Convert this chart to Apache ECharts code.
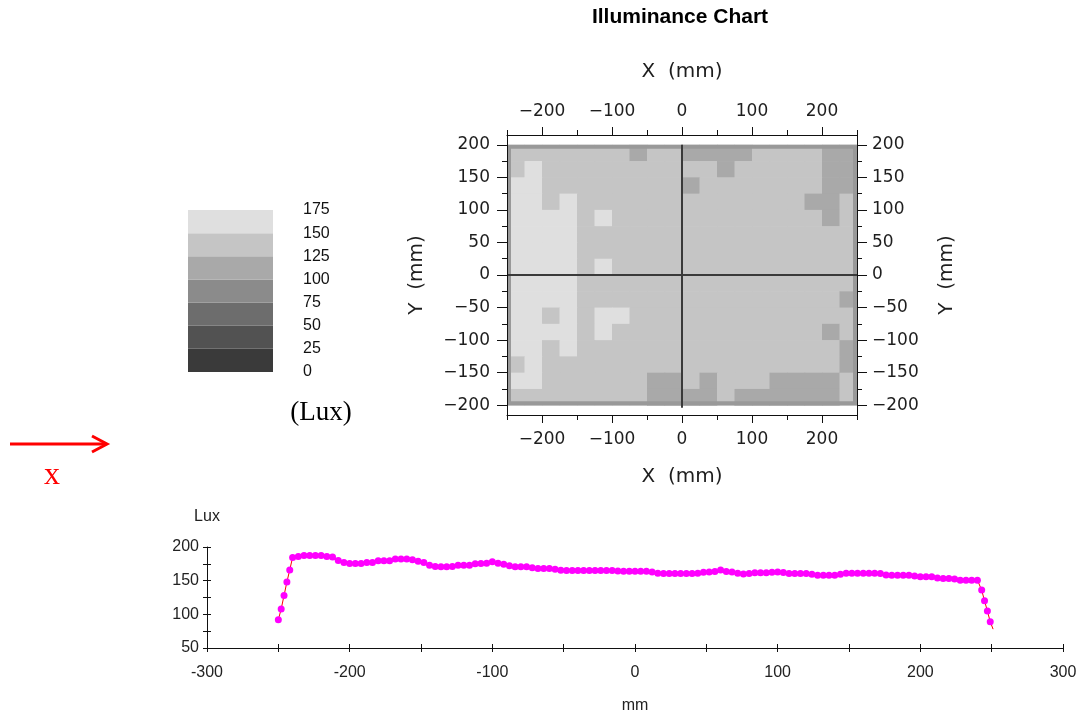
<!DOCTYPE html>
<html>
<head>
<meta charset="utf-8">
<title>Illuminance Chart</title>
<script src="https://cdn.jsdelivr.net/npm/echarts@6/dist/echarts.min.js"></script>
<style>
  html, body { margin: 0; padding: 0; background: #fff; }
  #main { width: 1081px; height: 715px; }
</style>
</head>
<body>
<div id="main"></div>
<script>
// cell edges of the illuminance map (mm)
var colEdges = [-250, -225, -200, -175, -150, -125, -100, -75, -50, -25, 0, 25, 50, 75, 100, 125, 150, 175, 200, 225, 250];
var rowEdges = [200, 175, 150, 125, 100, 75, 50, 25, 0, -25, -50, -75, -100, -125, -150, -175, -200];

// lux per cell, rows from y=200 down to y=-200, columns from x=-250 to 250
var luxRows = [
  [140, 142, 141, 140, 139, 138, 136, 118, 134, 137, 120, 118, 117, 121, 135, 138, 137, 136, 119, 116],
  [141, 152, 142, 141, 140, 139, 140, 139, 138, 138, 131, 133, 122, 131, 140, 141, 139, 138, 121, 118],
  [156, 153, 144, 142, 141, 140, 141, 140, 139, 132, 124, 138, 140, 141, 140, 138, 140, 136, 122, 120],
  [158, 155, 148, 153, 145, 142, 141, 140, 140, 139, 138, 140, 141, 141, 140, 140, 135, 124, 122, 131],
  [160, 159, 157, 156, 146, 151, 142, 141, 140, 140, 140, 141, 141, 141, 140, 140, 139, 136, 124, 132],
  [161, 160, 158, 156, 147, 144, 142, 141, 140, 140, 140, 141, 141, 141, 141, 140, 140, 139, 136, 133],
  [162, 161, 159, 155, 146, 148, 143, 141, 141, 140, 140, 141, 141, 142, 141, 141, 140, 139, 137, 134],
  [162, 161, 159, 156, 148, 152, 145, 142, 141, 140, 140, 141, 142, 142, 141, 141, 140, 139, 137, 133],
  [161, 160, 159, 157, 149, 146, 143, 141, 141, 140, 140, 141, 141, 142, 141, 141, 140, 138, 134, 129],
  [160, 160, 158, 156, 148, 146, 143, 141, 140, 140, 140, 141, 141, 141, 141, 140, 138, 136, 131, 122],
  [159, 157, 147, 155, 145, 153, 151, 142, 140, 140, 140, 141, 141, 141, 141, 141, 137, 136, 133, 130],
  [159, 157, 154, 153, 144, 152, 146, 141, 140, 140, 140, 141, 141, 141, 140, 140, 139, 136, 124, 131],
  [158, 156, 148, 152, 143, 142, 141, 140, 140, 139, 140, 140, 141, 140, 140, 139, 138, 136, 132, 123],
  [149, 155, 146, 149, 142, 141, 140, 139, 138, 137, 138, 139, 139, 140, 139, 137, 136, 134, 131, 122],
  [152, 152, 144, 143, 141, 140, 139, 134, 122, 120, 131, 123, 136, 133, 128, 124, 123, 122, 122, 127],
  [140, 140, 141, 140, 139, 138, 135, 130, 121, 118, 122, 121, 130, 123, 121, 120, 122, 120, 121, 128]
];

// centre cross of the map: [x0, x1, y0, y1]
var crossLines = [[0, 0, 200, -204], [-250, 250, 0, 0]];

// grey key (Lux)
var keyBounds = [0, 25, 50, 75, 100, 125, 150, 175];
var keyColors = ['#3a3a3a', '#525252', '#6d6d6d', '#8b8b8b', '#a9a9a9', '#c5c5c5', '#dfdfdf'];

// map axis ticks
var mapXMajor = [-200, -100, 0, 100, 200];
var mapXMinor = [-250, -150, -50, 50, 150, 250];
var mapYMajor = [-200, -150, -100, -50, 0, 50, 100, 150, 200];
var mapYMinor = [-175, -125, -75, -25, 25, 75, 125, 175];

// lux profile along x (mm)
var profileMm = [-250, -248, -246, -244, -242,
  -240, -236, -232, -228, -224, -220, -216, -212, -208, -204, -200, -196, -192, -188, -184, -180,
  -176, -172, -168, -164, -160, -156, -152, -148, -144, -140, -136, -132, -128, -124, -120, -116,
  -112, -108, -104, -100, -96, -92, -88, -84, -80, -76, -72, -68, -64, -60, -56, -52,
  -48, -44, -40, -36, -32, -28, -24, -20, -16, -12, -8, -4, 0, 4, 8, 12,
  16, 20, 24, 28, 32, 36, 40, 44, 48, 52, 56, 60, 64, 68, 72, 76,
  80, 84, 88, 92, 96, 100, 104, 108, 112, 116, 120, 124, 128, 132, 136, 140,
  144, 148, 152, 156, 160, 164, 168, 172, 176, 180, 184, 188, 192, 196, 200, 204,
  208, 212, 216, 220, 224, 228, 232, 236, 240,
  243, 245, 247, 249, 251];
var profileLux = [92, 108, 128, 148, 166,
  184.5, 186, 187.5, 187.5, 187.5, 187.5, 186, 185, 180, 177, 175.5, 175.5, 175.5, 177, 177, 179.5,
  179.5, 179.5, 182, 182, 182, 181, 179, 177, 173, 171, 170.5, 170.5, 171, 173, 173, 173,
  175, 175.5, 176, 178, 176, 174.5, 172, 170.5, 170.5, 170.5, 169, 168, 168, 168, 167, 165.5,
  165, 165, 165, 165, 165, 165, 165, 165, 165, 164.5, 164, 164, 164, 164, 164, 163,
  161, 160.7, 160.7, 160.7, 160.7, 160.7, 160.7, 161, 162.5, 162.7, 163.5, 166, 163.5, 163, 161, 160,
  160.5, 161.7, 161.7, 161.7, 162.5, 163, 162, 160.7, 160.7, 160.7, 160.7, 159.5, 158.2, 158.2, 158.2, 158.2,
  159.5, 161.2, 161.2, 161.2, 161.2, 161.2, 161.2, 160.5, 158.5, 158.2, 158.2, 158.2, 158.2, 157, 155.7, 155.7,
  155.7, 154, 153.3, 153.3, 152.5, 150.8, 150.8, 150.8, 150.8,
  136, 120, 105, 89, 78];
var profileXLabels = [-300, -200, -100, 0, 100, 200, 300];
var profileYLabels = [50, 100, 150, 200];

var myChart = echarts.init(document.getElementById('main'));

var heatData = [];
for (var r = 0; r < luxRows.length; r++) {
  for (var c = 0; c < luxRows[r].length; c++) {
    heatData.push([colEdges[c], colEdges[c + 1], rowEdges[r], rowEdges[r + 1], luxRows[r][c]]);
  }
}
var mapExtent = [colEdges[0], colEdges[colEdges.length - 1], rowEdges[0], rowEdges[rowEdges.length - 1]];

var profileData = [];
for (var i = 0; i < profileMm.length; i++) {
  if (i === profileMm.length - 1) {
    profileData.push({ value: [profileMm[i], profileLux[i]], symbol: 'none' });
  } else {
    profileData.push([profileMm[i], profileLux[i]]);
  }
}

var keyPieces = [];
var keySeries = [];
for (var k = 0; k < keyColors.length; k++) {
  keyPieces.push({ gte: keyBounds[k], lt: keyBounds[k + 1], color: keyColors[k] });
  keySeries.push({
    type: 'bar', xAxisIndex: 4, yAxisIndex: 4, stack: 'key', barWidth: '100%', silent: true,
    itemStyle: { color: keyColors[k] },
    data: [keyBounds[k + 1] - keyBounds[k]]
  });
}

function signed(v) {
  return v < 0 ? '\u2212' + (-v) : String(v);
}

function cellRect(params, api) {
  var a = api.coord([api.value(0), api.value(2)]);
  var b = api.coord([api.value(1), api.value(3)]);
  return {
    type: 'rect',
    shape: { x: a[0], y: a[1], width: b[0] - a[0] + 0.6, height: b[1] - a[1] + 0.6 },
    style: { fill: api.visual('color') }
  };
}

function edgeRect(params, api) {
  var a = api.coord([api.value(0), api.value(2)]);
  var b = api.coord([api.value(1), api.value(3)]);
  return {
    type: 'rect',
    shape: { x: a[0] + 2, y: a[1] + 2, width: b[0] - a[0] - 4, height: b[1] - a[1] - 4 },
    style: { fill: 'none', stroke: '#999999', lineWidth: 4 }
  };
}

function crossLine(params, api) {
  var a = api.coord([api.value(0), api.value(2)]);
  var b = api.coord([api.value(1), api.value(3)]);
  return {
    type: 'line',
    shape: { x1: a[0], y1: a[1], x2: b[0], y2: b[1] },
    style: { stroke: '#3a3a3a', lineWidth: 2 }
  };
}

var mapFont = 'DejaVu Sans';
var mapText = '#1e1e1e';
var mapName = { fontFamily: mapFont, fontSize: 20, color: mapText };
var blackLine = { onZero: false, lineStyle: { color: '#111', width: 1 } };

function mapMajorAxis(grid, pos, ticks, min, max, tickLen, margin, name, gap) {
  return {
    gridIndex: grid, type: 'value', position: pos, min: min, max: max, z: 3,
    axisLine: blackLine,
    axisTick: { customValues: ticks, length: tickLen, lineStyle: { color: '#111' } },
    axisLabel: { customValues: ticks, formatter: signed, margin: margin, fontFamily: mapFont, fontSize: 17, color: mapText },
    splitLine: { show: false },
    name: name, nameLocation: 'middle', nameGap: gap, nameTextStyle: mapName,
    nameRotate: (pos === 'left' || pos === 'right') ? 90 : 0
  };
}

function mapMinorAxis(grid, pos, ticks, min, max) {
  return {
    gridIndex: grid, type: 'value', position: pos, min: min, max: max, z: 3,
    axisLine: { show: false, onZero: false },
    axisTick: { customValues: ticks, length: 5, lineStyle: { color: '#111' } },
    axisLabel: { show: false },
    splitLine: { show: false }
  };
}

var profText = { fontFamily: 'Liberation Sans', fontSize: 16, color: '#222' };

var option = {
  animation: false,
  backgroundColor: '#fff',
  title: {
    text: 'Illuminance Chart',
    left: 680, top: 7, padding: 0, textAlign: 'center',
    textStyle: { fontFamily: 'Liberation Sans', fontSize: 21, fontWeight: 'bold', color: '#000' }
  },
  grid: [
    { left: 507, top: 135, width: 350, height: 280, outerBoundsMode: 'none' },
    { left: 507, top: 135, width: 350, height: 280, outerBoundsMode: 'none' },
    { left: 188, top: 210, width: 85, height: 162, outerBoundsMode: 'none' },
    { left: 207, top: 547, width: 856, height: 101, outerBoundsMode: 'none' },
    { left: 207, top: 547, width: 856, height: 101, outerBoundsMode: 'none' }
  ],
  xAxis: [
    mapMajorAxis(0, 'bottom', mapXMajor, -250, 250, 8, 16, 'X  (mm)', 52),
    mapMajorAxis(0, 'top', mapXMajor, -250, 250, 8, 15, 'X  (mm)', 53),
    mapMinorAxis(1, 'bottom', mapXMinor, -250, 250),
    mapMinorAxis(1, 'top', mapXMinor, -250, 250),
    { gridIndex: 2, type: 'category', data: ['Lux'], show: false },
    {
      gridIndex: 3, type: 'value', min: -300, max: 300, interval: 50,
      axisLine: blackLine,
      axisTick: { length: 4, lineStyle: { color: '#111' } },
      axisLabel: Object.assign({ customValues: profileXLabels, margin: 17 }, profText),
      splitLine: { show: false },
      name: 'mm', nameLocation: 'middle', nameGap: 50, nameTextStyle: profText
    },
    {
      gridIndex: 4, type: 'value', min: -300, max: 300, interval: 50,
      axisLine: { show: false, onZero: false },
      axisTick: { inside: true, length: 4, lineStyle: { color: '#111' } },
      axisLabel: { show: false }, splitLine: { show: false }
    }
  ],
  yAxis: [
    mapMajorAxis(0, 'left', mapYMajor, -215, 215, 10, 17, 'Y  (mm)', 80),
    mapMajorAxis(0, 'right', mapYMajor, -215, 215, 10, 15, 'Y  (mm)', 80),
    mapMinorAxis(1, 'left', mapYMinor, -215, 215),
    mapMinorAxis(1, 'right', mapYMinor, -215, 215),
    {
      gridIndex: 2, type: 'value', position: 'right', min: keyBounds[0], max: keyBounds[keyBounds.length - 1],
      axisLine: { show: false }, axisTick: { show: false }, splitLine: { show: false },
      axisLabel: { customValues: keyBounds, margin: 30, fontFamily: 'Liberation Sans', fontSize: 16, color: '#111' }
    },
    {
      gridIndex: 3, type: 'value', min: 50, max: 200, interval: 25,
      axisLine: blackLine,
      axisTick: { length: 4, lineStyle: { color: '#111' } },
      axisLabel: Object.assign({ customValues: profileYLabels, margin: 8 }, profText),
      splitLine: { show: false },
      name: 'Lux', nameLocation: 'end', nameGap: 22, nameTextStyle: profText
    },
    {
      gridIndex: 4, type: 'value', min: 50, max: 200, interval: 25,
      axisLine: { show: false, onZero: false },
      axisTick: { inside: true, length: 4, lineStyle: { color: '#111' } },
      axisLabel: { show: false }, splitLine: { show: false }
    }
  ],
  visualMap: {
    type: 'piecewise', show: false, seriesIndex: 0, dimension: 4,
    pieces: keyPieces
  },
  series: [
    {
      type: 'custom', name: 'lux', xAxisIndex: 0, yAxisIndex: 0,
      encode: { x: [0, 1], y: [2, 3] },
      renderItem: cellRect,
      data: heatData,
      silent: true
    },
    {
      type: 'custom', name: 'edge', xAxisIndex: 0, yAxisIndex: 0,
      encode: { x: [0, 1], y: [2, 3] },
      renderItem: edgeRect,
      data: [mapExtent],
      silent: true
    },
    {
      type: 'custom', name: 'cross', xAxisIndex: 0, yAxisIndex: 0,
      encode: { x: [0, 1], y: [2, 3] },
      renderItem: crossLine,
      data: crossLines,
      silent: true
    },
    {
      type: 'line', name: 'profile', xAxisIndex: 5, yAxisIndex: 5,
      data: profileData,
      symbol: 'circle', symbolSize: 7,
      itemStyle: { color: '#ff00ff' },
      lineStyle: { color: '#ff0000', width: 1 },
      z: 3
    }
  ].concat(keySeries),
  graphic: [
    { type: 'line', shape: { x1: 10, y1: 444, x2: 106, y2: 444 }, style: { stroke: '#ff0000', lineWidth: 3 } },
    { type: 'polyline', shape: { points: [[92, 436], [107, 444], [92, 452]] }, style: { stroke: '#ff0000', lineWidth: 3, fill: null } },
    { type: 'text', x: 52, y: 476, style: { text: 'x', fill: '#ff0000', font: '32px "Liberation Serif"', align: 'center', verticalAlign: 'middle' } },
    { type: 'text', x: 321, y: 413, style: { text: '(Lux)', fill: '#000', font: '27px "Liberation Serif"', align: 'center', verticalAlign: 'middle' } }
  ]
};

myChart.setOption(option);
</script>
</body>
</html>
